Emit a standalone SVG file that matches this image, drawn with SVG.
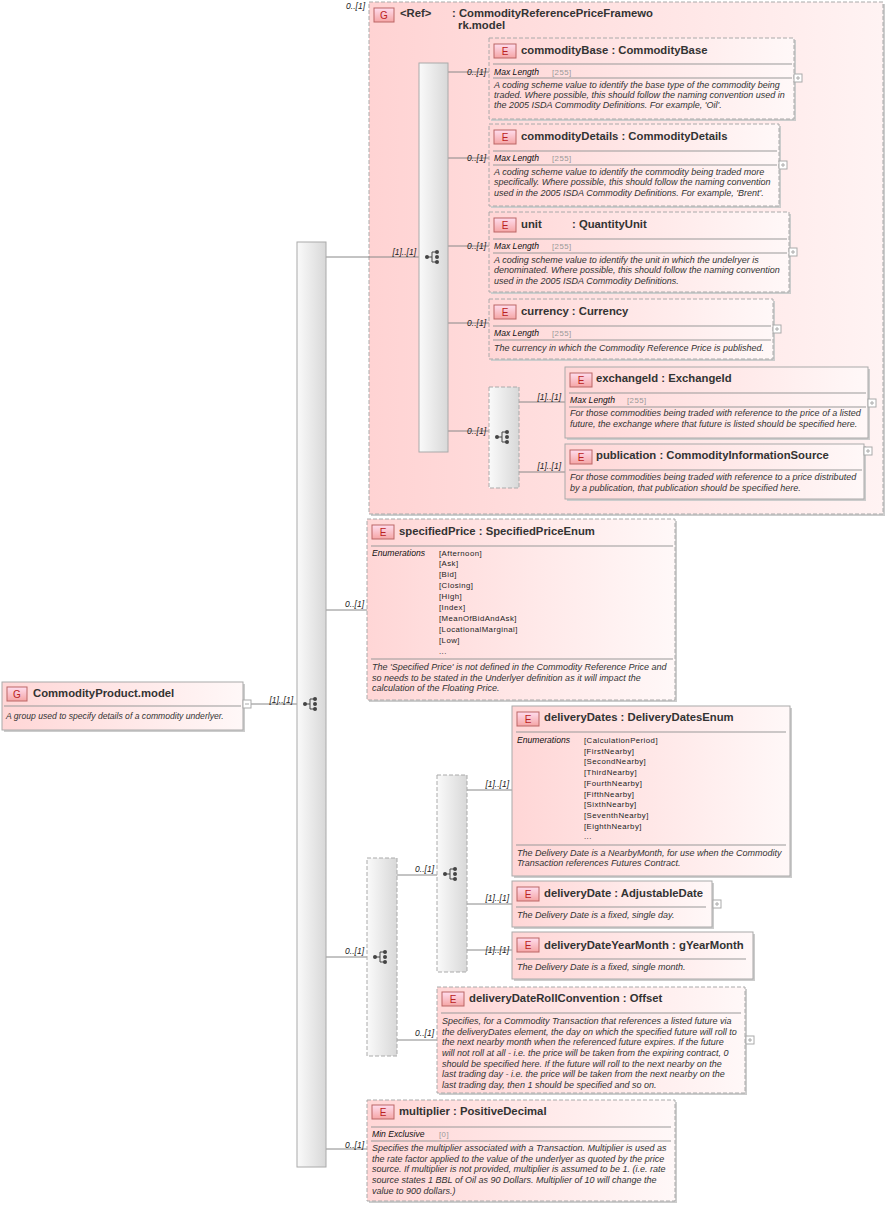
<svg xmlns="http://www.w3.org/2000/svg" width="888" height="1208" viewBox="0 0 888 1208">
<style>
text{font-family:"Liberation Sans",Arial,sans-serif;fill:#222}
.t{font-size:11.3px;font-weight:bold;fill:#333}
.d{font-size:9px;font-style:italic;fill:#333}
.k{font-size:8.6px;font-style:italic;fill:#111}
.v{font-size:7.8px;fill:#999;letter-spacing:0.45px}
.c{font-size:8.5px;font-style:italic;fill:#222}
.b{font-size:10px;fill:#b22;text-anchor:middle}
.el{fill:url(#eg);stroke:#aaa;stroke-width:1}
.dash{stroke-dasharray:4 2}
.sh{fill:#ccc}
.sep{stroke:#999;stroke-width:1}
.ln{stroke:#888;stroke-width:1;fill:none}
.bar{fill:url(#bg);stroke:#aaa}
.bad{fill:url(#bdg);stroke:#b66}
.pl{fill:#fff;stroke:#aaa}
.plt{stroke:#aaa}
</style>
<defs>
<linearGradient id="eg" x1="0" x2="1" y1="0" y2="0"><stop offset="0" stop-color="#ffd6d6"/><stop offset="1" stop-color="#fff8f8"/></linearGradient>
<linearGradient id="gg" x1="0" x2="1"><stop offset="0" stop-color="#ffd3d3"/><stop offset="1" stop-color="#fff3f3"/></linearGradient>
<linearGradient id="bg" x1="0" x2="1"><stop offset="0" stop-color="#fafafa"/><stop offset="1" stop-color="#d8d8d8"/></linearGradient>
<linearGradient id="bdg" x1="0" x2="0" y1="0" y2="1"><stop offset="0" stop-color="#fde"/><stop offset="1" stop-color="#f5a5a5"/></linearGradient>
<g id="ic" fill="#444" stroke="#444">
<circle cx="-7" cy="0" r="2" stroke="none"/><path d="M-7 0H-2M-2 -5V5M-2 -5H3M-2 5H3" fill="none" stroke-width="1"/>
<circle cx="3" cy="-5" r="2" stroke="none"/><circle cx="3" cy="0" r="2" stroke="none"/><circle cx="3" cy="5" r="2" stroke="none"/>
</g>
<g id="plus"><rect x="0" y="0" width="8" height="8" class="pl"/><path d="M2 4H6M4 2V6" class="plt"/></g>
</defs>

<g id="refGroup">
<rect x="371" y="4" width="514" height="512" class="sh"/>
<rect x="369" y="2" width="514" height="512" fill="url(#gg)" stroke="#aaa" class="dash"/>
<rect x="374" y="8" width="20" height="14" class="bad"/><text x="384" y="19" class="b">G</text>
<text x="400" y="17" class="t">&lt;Ref&gt;</text>
<text x="452" y="17" class="t">: CommodityReferencePriceFramewo</text>
<text x="458" y="29" class="t">rk.model</text>
</g>

<g id="connectors">
<path class="ln" d="M248 704H297M326 257H419M448 72H489M448 158H489M448 246H489M448 323H489M448 431H489M519 402H565M519 472H565M326 610H367M326 957H367M397 875H437M397 1040H437M467 790H512M467 904H512M467 950H512M326 1149H367"/>
<g class="c" text-anchor="end">
<text x="293" y="703">[1]..[1]</text>
<text x="365" y="9">0..[1]</text>
<text x="416" y="255">[1]..[1]</text>
<text x="486" y="75">0..[1]</text>
<text x="486" y="161">0..[1]</text>
<text x="486" y="249">0..[1]</text>
<text x="486" y="326">0..[1]</text>
<text x="486" y="434">0..[1]</text>
<text x="561" y="400">[1]..[1]</text>
<text x="561" y="469">[1]..[1]</text>
<text x="364" y="607">0..[1]</text>
<text x="364" y="954">0..[1]</text>
<text x="434" y="872">0..[1]</text>
<text x="434" y="1036">0..[1]</text>
<text x="509" y="787">[1]..[1]</text>
<text x="509" y="901">[1]..[1]</text>
<text x="509" y="953">[1]..[1]</text>
<text x="364" y="1148">0..[1]</text>
</g>
</g>

<g id="root">
<rect x="4" y="684" width="241" height="48" class="sh"/>
<rect x="2" y="682" width="241" height="48" class="el"/>
<rect x="7" y="687" width="20" height="14" class="bad"/><text x="17" y="698" class="b">G</text>
<text x="33" y="697" class="t">CommodityProduct.model</text>
<line x1="4" y1="706" x2="241" y2="706" class="sep"/>
<text x="6" y="719" class="d" style="font-size:8.6px">A group used to specify details of a commodity underlyer.</text>
<rect x="243" y="700" width="8" height="8" class="pl"/><path d="M245 704H249" class="plt"/>
</g>

<g id="seqMain"><rect x="297" y="242" width="29" height="925" class="bar"/><use href="#ic" x="312" y="704"/></g>

<g id="seqRef"><rect x="419" y="63" width="29" height="389" class="bar"/><use href="#ic" x="434" y="257"/></g>

<g id="commodityBase">
<rect x="491" y="40" width="305" height="81" class="sh"/>
<rect x="489" y="38" width="305" height="81" class="el dash"/>
<rect x="494" y="44" width="22" height="14" class="bad"/><text x="505" y="55" class="b">E</text>
<text x="521" y="54" class="t">commodityBase : CommodityBase</text>
<line x1="493" y1="64" x2="792" y2="64" class="sep"/>
<text x="494" y="75" class="k">Max Length</text><text x="552" y="75" class="v">[255]</text>
<line x1="493" y1="78" x2="792" y2="78" class="sep"/>
<text x="494" y="88" class="d">A coding scheme value to identify the base type of the commodity being</text>
<text x="494" y="98" class="d">traded. Where possible, this should follow the naming convention used in</text>
<text x="494" y="108" class="d">the 2005 ISDA Commodity Definitions. For example, 'Oil'.</text>
<use href="#plus" x="794" y="74"/>
</g>

<g id="commodityDetails">
<rect x="491" y="126" width="290" height="82" class="sh"/>
<rect x="489" y="124" width="290" height="82" class="el dash"/>
<rect x="494" y="130" width="22" height="14" class="bad"/><text x="505" y="141" class="b">E</text>
<text x="521" y="140" class="t">commodityDetails : CommodityDetails</text>
<line x1="493" y1="151" x2="777" y2="151" class="sep"/>
<text x="494" y="161" class="k">Max Length</text><text x="552" y="161" class="v">[255]</text>
<line x1="493" y1="165" x2="777" y2="165" class="sep"/>
<text x="494" y="175" class="d">A coding scheme value to identify the commodity being traded more</text>
<text x="494" y="185" class="d">specifically. Where possible, this should follow the naming convention</text>
<text x="494" y="196" class="d">used in the 2005 ISDA Commodity Definitions. For example, 'Brent'.</text>
<use href="#plus" x="779" y="161"/>
</g>

<g id="unit">
<rect x="491" y="214" width="300" height="80" class="sh"/>
<rect x="489" y="212" width="300" height="80" class="el dash"/>
<rect x="494" y="218" width="22" height="14" class="bad"/><text x="505" y="229" class="b">E</text>
<text x="521" y="228" class="t">unit</text><text x="572" y="228" class="t">: QuantityUnit</text>
<line x1="493" y1="239" x2="787" y2="239" class="sep"/>
<text x="494" y="249" class="k">Max Length</text><text x="552" y="249" class="v">[255]</text>
<line x1="493" y1="253" x2="787" y2="253" class="sep"/>
<text x="494" y="263" class="d">A coding scheme value to identify the unit in which the undelryer is</text>
<text x="494" y="273" class="d">denominated. Where possible, this should follow the naming convention</text>
<text x="494" y="284" class="d">used in the 2005 ISDA Commodity Definitions.</text>
<use href="#plus" x="789" y="248"/>
</g>

<g id="currency">
<rect x="491" y="301" width="284" height="60" class="sh"/>
<rect x="489" y="299" width="284" height="60" class="el dash"/>
<rect x="494" y="305" width="22" height="14" class="bad"/><text x="505" y="316" class="b">E</text>
<text x="521" y="315" class="t">currency : Currency</text>
<line x1="493" y1="326" x2="771" y2="326" class="sep"/>
<text x="494" y="336" class="k">Max Length</text><text x="552" y="336" class="v">[255]</text>
<line x1="493" y1="340" x2="771" y2="340" class="sep"/>
<text x="494" y="351" class="d">The currency in which the Commodity Reference Price is published.</text>
<use href="#plus" x="773" y="325"/>
</g>

<g id="choiceRef"><rect x="489" y="387" width="30" height="101" class="bar dash"/><use href="#ic" x="504" y="437"/></g>

<g id="exchangeId">
<rect x="567" y="369" width="303" height="71" class="sh"/>
<rect x="565" y="367" width="303" height="71" class="el"/>
<rect x="570" y="373" width="22" height="14" class="bad"/><text x="581" y="384" class="b">E</text>
<text x="596" y="382" class="t">exchangeId : ExchangeId</text>
<line x1="569" y1="393" x2="866" y2="393" class="sep"/>
<text x="570" y="403" class="k">Max Length</text><text x="627" y="403" class="v">[255]</text>
<line x1="569" y1="407" x2="866" y2="407" class="sep"/>
<text x="570" y="416" class="d">For those commodities being traded with reference to the price of a listed</text>
<text x="570" y="427" class="d">future, the exchange where that future is listed should be specified here.</text>
<use href="#plus" x="868" y="399"/>
</g>

<g id="publication">
<rect x="567" y="446" width="299" height="55" class="sh"/>
<rect x="565" y="444" width="299" height="55" class="el"/>
<rect x="570" y="450" width="22" height="14" class="bad"/><text x="581" y="461" class="b">E</text>
<text x="596" y="459" class="t">publication : CommodityInformationSource</text>
<line x1="569" y1="470" x2="862" y2="470" class="sep"/>
<text x="570" y="480" class="d">For those commodities being traded with reference to a price distributed</text>
<text x="570" y="491" class="d">by a publication, that publication should be specified here.</text>
<use href="#plus" x="864" y="447"/>
</g>

<g id="specifiedPrice">
<rect x="369" y="521" width="308" height="181" class="sh"/>
<rect x="367" y="519" width="308" height="181" class="el dash"/>
<rect x="372" y="525" width="22" height="14" class="bad"/><text x="383" y="536" class="b">E</text>
<text x="399" y="535" class="t">specifiedPrice : SpecifiedPriceEnum</text>
<line x1="371" y1="546" x2="673" y2="546" class="sep"/>
<text x="372" y="556" class="k">Enumerations</text>
<g class="v"><text x="439" y="556">[Afternoon]</text><text x="439" y="566">[Ask]</text><text x="439" y="577">[Bid]</text><text x="439" y="588">[Closing]</text><text x="439" y="599">[High]</text><text x="439" y="610">[Index]</text><text x="439" y="621">[MeanOfBidAndAsk]</text><text x="439" y="632">[LocationalMarginal]</text><text x="439" y="643">[Low]</text><text x="439" y="654">...</text></g>
<line x1="371" y1="659" x2="673" y2="659" class="sep"/>
<text x="372" y="670" class="d">The 'Specified Price' is not defined in the Commodity Reference Price and</text>
<text x="372" y="681" class="d">so needs to be stated in the Underlyer definition as it will impact the</text>
<text x="372" y="691" class="d">calculation of the Floating Price.</text>
</g>

<g id="choiceDelivery"><rect x="367" y="858" width="30" height="198" class="bar dash"/><use href="#ic" x="382" y="957"/></g>
<g id="seqDelivery"><rect x="437" y="775" width="30" height="197" class="bar dash"/><use href="#ic" x="452" y="874"/></g>

<g id="deliveryDates">
<rect x="514" y="708" width="278" height="170" class="sh"/>
<rect x="512" y="706" width="278" height="170" class="el"/>
<rect x="517" y="712" width="22" height="14" class="bad"/><text x="528" y="723" class="b">E</text>
<text x="544" y="721" class="t">deliveryDates : DeliveryDatesEnum</text>
<line x1="516" y1="732" x2="786" y2="732" class="sep"/>
<text x="517" y="743" class="k">Enumerations</text>
<g class="v"><text x="584" y="743">[CalculationPeriod]</text><text x="584" y="754">[FirstNearby]</text><text x="584" y="764">[SecondNearby]</text><text x="584" y="775">[ThirdNearby]</text><text x="584" y="786">[FourthNearby]</text><text x="584" y="797">[FifthNearby]</text><text x="584" y="807">[SixthNearby]</text><text x="584" y="818">[SeventhNearby]</text><text x="584" y="829">[EighthNearby]</text><text x="584" y="839">...</text></g>
<line x1="516" y1="845" x2="786" y2="845" class="sep"/>
<text x="517" y="856" class="d">The Delivery Date is a NearbyMonth, for use when the Commodity</text>
<text x="517" y="866" class="d">Transaction references Futures Contract.</text>
</g>

<g id="deliveryDate">
<rect x="514" y="883" width="200" height="46" class="sh"/>
<rect x="512" y="881" width="200" height="46" class="el"/>
<rect x="517" y="887" width="22" height="14" class="bad"/><text x="528" y="898" class="b">E</text>
<text x="544" y="897" class="t">deliveryDate : AdjustableDate</text>
<line x1="516" y1="907" x2="706" y2="907" class="sep"/>
<text x="517" y="918" class="d">The Delivery Date is a fixed, single day.</text>
<use href="#plus" x="713" y="900"/>
</g>

<g id="deliveryDateYearMonth">
<rect x="514" y="934" width="241" height="47" class="sh"/>
<rect x="512" y="932" width="241" height="47" class="el"/>
<rect x="517" y="938" width="22" height="14" class="bad"/><text x="528" y="949" class="b">E</text>
<text x="544" y="949" class="t">deliveryDateYearMonth : gYearMonth</text>
<line x1="516" y1="959" x2="746" y2="959" class="sep"/>
<text x="517" y="970" class="d">The Delivery Date is a fixed, single month.</text>
</g>

<g id="deliveryDateRollConvention">
<rect x="439" y="989" width="308" height="106" class="sh"/>
<rect x="437" y="987" width="308" height="106" class="el dash"/>
<rect x="442" y="992" width="22" height="14" class="bad"/><text x="453" y="1003" class="b">E</text>
<text x="469" y="1002" class="t">deliveryDateRollConvention : Offset</text>
<line x1="441" y1="1013" x2="741" y2="1013" class="sep"/>
<text x="442" y="1024" class="d">Specifies, for a Commodity Transaction that references a listed future via</text>
<text x="442" y="1035" class="d">the deliveryDates element, the day on which the specified future will roll to</text>
<text x="442" y="1045" class="d">the next nearby month when the referenced future expires. If the future</text>
<text x="442" y="1056" class="d">will not roll at all - i.e. the price will be taken from the expiring contract, 0</text>
<text x="442" y="1067" class="d">should be specified here. If the future will roll to the next nearby on the</text>
<text x="442" y="1077" class="d">last trading day - i.e. the price will be taken from the next nearby on the</text>
<text x="442" y="1088" class="d">last trading day, then 1 should be specified and so on.</text>
<use href="#plus" x="746" y="1036"/>
</g>

<g id="multiplier">
<rect x="369" y="1102" width="308" height="101" class="sh"/>
<rect x="367" y="1100" width="308" height="101" class="el dash"/>
<rect x="372" y="1105" width="22" height="14" class="bad"/><text x="383" y="1116" class="b">E</text>
<text x="399" y="1115" class="t">multiplier : PositiveDecimal</text>
<line x1="371" y1="1127" x2="671" y2="1127" class="sep"/>
<text x="372" y="1137" class="k">Min Exclusive</text><text x="439" y="1137" class="v">[0]</text>
<line x1="371" y1="1141" x2="671" y2="1141" class="sep"/>
<text x="372" y="1151" class="d">Specifies the multiplier associated with a Transaction. Multiplier is used as</text>
<text x="372" y="1162" class="d">the rate factor applied to the value of the underlyer as quoted by the price</text>
<text x="372" y="1172" class="d">source. If multiplier is not provided, multiplier is assumed to be 1. (i.e. rate</text>
<text x="372" y="1183" class="d">source states 1 BBL of Oil as 90 Dollars. Multiplier of 10 will change the</text>
<text x="372" y="1194" class="d">value to 900 dollars.)</text>
</g>
</svg>
